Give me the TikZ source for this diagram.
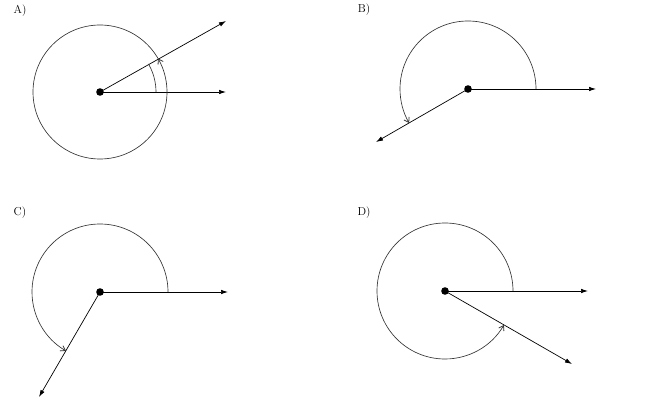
\documentclass[tikz,border=0pt]{standalone}
\usetikzlibrary{arrows.meta}

\tikzset{
    ray/.style={line width=0.7pt, -{Latex[length=7pt,width=4.5pt]}},
    turn/.style={line width=0.65pt, black!80, -{Straight Barb[length=4.5pt,width=6pt,line width=0.8pt]}},
    anglemark/.style={line width=0.65pt, black!80},
    lab/.style={font=\fontsize{11.5}{13}\selectfont, inner sep=0pt},
}

\begin{document}
\begin{tikzpicture}[x=1pt,y=-1pt]

    \useasboundingbox (0,0) rectangle (650,403);

    \def \rbig {67}
    \def \rsmall {56}

    % A) one full turn and 30 degrees
    \coordinate (oA) at (100,92);
    \coordinate (hA) at (226,92);
    \coordinate (eA) at (226,21);
    \draw[ray] (oA) -- (hA);
    \draw[ray] (oA) -- (eA);
    \draw[turn] (oA) ++(\rbig,0) arc[start angle=0, end angle=-390, radius=\rbig];
    \draw[anglemark] (oA) ++(\rsmall,0) arc[start angle=0, end angle=-30, radius=\rsmall];
    \fill (oA) circle (3.8);
    \node[lab] (labA) at (20,11) {A)};

    % B) 210 degrees
    \coordinate (oB) at (468,89);
    \coordinate (hB) at (596,89);
    \coordinate (eB) at (376,142);
    \draw[ray] (oB) -- (hB);
    \draw[ray] (oB) -- (eB);
    \draw[turn] (oB) ++(68,0) arc[start angle=0, end angle=-210, radius=68];
    \fill (oB) circle (3.8);
    \node[lab] (labB) at (364,10) {B)};

    % C) 240 degrees
    \coordinate (oC) at (100,292);
    \coordinate (hC) at (228,292);
    \coordinate (eC) at (39,397);
    \draw[ray] (oC) -- (hC);
    \draw[ray] (oC) -- (eC);
    \draw[turn] (oC) ++(68,0) arc[start angle=0, end angle=-240, radius=68];
    \fill (oC) circle (3.8);
    \node[lab] (labC) at (20,213) {C)};

    % D) 330 degrees
    \coordinate (oD) at (445,291);
    \coordinate (hD) at (588,291);
    \coordinate (eD) at (572,364);
    \draw[ray] (oD) -- (hD);
    \draw[ray] (oD) -- (eD);
    \draw[turn] (oD) ++(68,0) arc[start angle=0, end angle=-330, radius=68];
    \fill (oD) circle (3.8);
    \node[lab] (labD) at (364,213) {D)};

\end{tikzpicture}
\end{document}
